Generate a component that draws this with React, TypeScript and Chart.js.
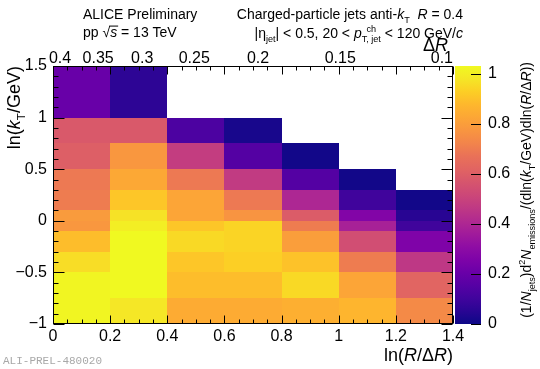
import React, { useEffect, useRef } from 'react';
import { Chart, registerables } from 'chart.js';
Chart.register(...registerables);

// ---- data ----
const xEdges = [0, 0.2, 0.4, 0.6, 0.8, 1.0, 1.2, 1.4]; // ln(R/ΔR) bin edges
const yEdges = [-1, -0.75, -0.5, -0.3, -0.1, 0, 0.1, 0.3, 0.5, 0.75, 1, 1.5]; // ln(kT/GeV) bin edges
// one array per ln(R/ΔR) bin, from lowest to highest ln(kT) bin (null = empty bin)
const bin0 = [1.02, 1.02, 0.96, 0.89, 0.78, 0.79, 0.70, 0.69, 0.60, 0.58, 0.20];
const bin1 = [0.98, 1.03, 1.03, 1.03, 1.0, 0.97, 0.91, 0.83, 0.78, 0.58, 0.06];
const bin2 = [0.84, 0.89, 0.91, 0.95, 0.91, 0.82, 0.82, 0.69, 0.48, 0.13, null];
const bin3 = [0.84, 0.89, 0.93, 0.94, 0.94, 0.77, 0.69, 0.47, 0.15, 0.02, null];
const bin4 = [0.85, 0.95, 0.90, 0.80, 0.70, 0.59, 0.40, 0.15, 0.01, null, null];
const bin5 = [0.87, 0.82, 0.70, 0.54, 0.38, 0.27, 0.10, 0.01, null, null, null];
const bin6 = [0.74, 0.62, 0.46, 0.26, 0.10, 0.05, 0.01, null, null, null, null];
const columns = [bin0, bin1, bin2, bin3, bin4, bin5, bin6];

const xTicks = [0, 0.2, 0.4, 0.6, 0.8, 1, 1.2, 1.4];
const yTicks = [-1, -0.5, 0, 0.5, 1, 1.5];
const zTicks = [0, 0.2, 0.4, 0.6, 0.8, 1];
const topTicks = [0.4, 0.35, 0.3, 0.25, 0.2, 0.15, 0.1]; // ΔR labels
const jetR = 0.4;
const zMax = 1.03;

const FONT = '"Liberation Sans", Arial, Helvetica, sans-serif';

// plasma colour map stops
const plasmaStops: [number, string][] = [
  [0.0, '#0d0887'], [0.05, '#290593'], [0.1, '#41049d'], [0.15, '#5601a4'],
  [0.2, '#6a00a8'], [0.25, '#7e03a8'], [0.3, '#8f0da4'], [0.35, '#a11b9b'],
  [0.4, '#b12a90'], [0.45, '#bf3984'], [0.5, '#cc4778'], [0.55, '#d6556d'],
  [0.6, '#e16462'], [0.65, '#e97158'], [0.7, '#f2844b'], [0.75, '#f89540'],
  [0.8, '#fca636'], [0.85, '#feb72d'], [0.9, '#fcce25'], [0.95, '#f5e626'],
  [1.0, '#f0f921'],
];
function hex(h: string) {
  return [parseInt(h.slice(1, 3), 16), parseInt(h.slice(3, 5), 16), parseInt(h.slice(5, 7), 16)];
}
function plasma(t: number) {
  t = Math.max(0, Math.min(1, t));
  for (let i = 1; i < plasmaStops.length; i++) {
    const [t1, c1] = plasmaStops[i];
    const [t0, c0] = plasmaStops[i - 1];
    if (t <= t1) {
      const f = (t - t0) / (t1 - t0);
      const a = hex(c0), b = hex(c1);
      return `rgb(${Math.round(a[0] + (b[0] - a[0]) * f)},${Math.round(a[1] + (b[1] - a[1]) * f)},${Math.round(a[2] + (b[2] - a[2]) * f)})`;
    }
  }
  return plasmaStops[plasmaStops.length - 1][1];
}

type Piece = { t?: string; i?: boolean; sub?: boolean; sup?: boolean; over?: boolean; stack?: [string, string] };
function pf(size: number, italic?: boolean) {
  return `${italic ? 'italic ' : ''}${size}px ${FONT}`;
}
function measureRich(ctx: CanvasRenderingContext2D, pieces: Piece[], size: number) {
  let w = 0;
  for (const p of pieces) {
    if (p.stack) {
      ctx.font = pf(size * 0.65);
      w += Math.max(ctx.measureText(p.stack[0]).width, ctx.measureText(p.stack[1]).width);
    } else {
      ctx.font = pf(p.sub || p.sup ? size * 0.65 : size, p.i);
      w += ctx.measureText(p.t || '').width;
    }
  }
  return w;
}
function drawRich(ctx: CanvasRenderingContext2D, pieces: Piece[], x: number, y: number, size: number, align: 'left' | 'right', rotate = false) {
  ctx.save();
  ctx.translate(x, y);
  if (rotate) ctx.rotate(-Math.PI / 2);
  const w = measureRich(ctx, pieces, size);
  let cx = align === 'right' ? -w : 0;
  ctx.fillStyle = '#000';
  ctx.strokeStyle = '#000';
  ctx.textAlign = 'left';
  ctx.textBaseline = 'alphabetic';
  for (const p of pieces) {
    if (p.stack) {
      ctx.font = pf(size * 0.65);
      const w0 = ctx.measureText(p.stack[0]).width, w1 = ctx.measureText(p.stack[1]).width;
      const mw = Math.max(w0, w1);
      ctx.fillText(p.stack[0], cx + (mw - w0) / 2, -size * 0.45);
      ctx.fillText(p.stack[1], cx, size * 0.32);
      cx += mw;
    } else {
      const s = p.sub || p.sup ? size * 0.65 : size;
      ctx.font = pf(s, p.i);
      const dy = p.sub ? size * 0.3 : p.sup ? -size * 0.4 : 0;
      ctx.fillText(p.t || '', cx, dy);
      const pw = ctx.measureText(p.t || '').width;
      if (p.over) {
        ctx.lineWidth = 1;
        ctx.beginPath();
        ctx.moveTo(cx - 1, -size * 0.78);
        ctx.lineTo(cx + pw + 1, -size * 0.78);
        ctx.stroke();
      }
      cx += pw;
    }
  }
  ctx.restore();
}

const fmt = (v: number) => {
  const s = String(Number(Math.abs(v).toFixed(2)));
  return v < 0 ? '\u2212' + s : s;
};

const lundPlugin = {
  id: 'lund',
  afterDraw(chart: any) {
    const ctx: CanvasRenderingContext2D = chart.ctx;
    const xs = chart.scales.x, ys = chart.scales.y, zs = chart.scales.z;
    const a = chart.chartArea;
    ctx.save();
    // cells
    for (const c of chart.data.datasets[0].data) {
      const l = Math.round(xs.getPixelForValue(c.x0)), r = Math.round(xs.getPixelForValue(c.x1));
      const t = Math.round(ys.getPixelForValue(c.y1)), b = Math.round(ys.getPixelForValue(c.y0));
      ctx.fillStyle = plasma(c.v / zMax);
      ctx.fillRect(l, t, r - l, b - t);
    }
    // colour bar
    const zb = zs.getPixelForValue(0), zt = zs.getPixelForValue(zMax);
    const g = ctx.createLinearGradient(0, zb, 0, zt);
    for (const [t, c] of plasmaStops) g.addColorStop(t, c);
    ctx.fillStyle = g;
    const cbl = Math.round(a.right) + 2, cbr = Math.round(a.right) + 28;
    ctx.fillRect(cbl, Math.round(zt), cbr - cbl, Math.round(zb) - Math.round(zt));
    ctx.strokeStyle = '#000';
    ctx.lineWidth = 1;
    ctx.beginPath();
    for (const v of zTicks) {
      const py = Math.round(zs.getPixelForValue(v)) + 0.5;
      ctx.moveTo(cbr, py);
      ctx.lineTo(cbr - 10, py);
    }
    ctx.stroke();

    // ticks (inward, mirrored) and frame
    const L = Math.round(a.left) + 0.5, R = Math.round(a.right) - 0.5;
    const T = Math.round(a.top) + 0.5, B = Math.round(a.bottom) - 0.5;
    ctx.beginPath();
    for (let i = 0; i <= 28; i++) {
      const px = Math.round(xs.getPixelForValue(i * 0.05)) + 0.5;
      const len = i % 4 === 0 ? 8 : 4;
      ctx.moveTo(px, B); ctx.lineTo(px, B - len);
      ctx.moveTo(px, T); ctx.lineTo(px, T + len);
    }
    for (let i = 0; i <= 25; i++) {
      const py = Math.round(ys.getPixelForValue(-1 + i * 0.1)) + 0.5;
      const len = i % 5 === 0 ? 11 : 5;
      ctx.moveTo(L, py); ctx.lineTo(L + len, py);
      ctx.moveTo(R, py); ctx.lineTo(R - len, py);
    }
    ctx.stroke();
    ctx.strokeRect(L, T, R - L, B - T);

    // top ΔR axis labels
    ctx.fillStyle = '#000';
    ctx.font = pf(16);
    ctx.textAlign = 'center';
    ctx.textBaseline = 'alphabetic';
    for (const v of topTicks) {
      const lab = String(v);
      const w = ctx.measureText(lab).width;
      let px = xs.getPixelForValue(Math.log(jetR / v)) + 7;
      if (px + w / 2 > a.right) px = a.right - w / 2;
      ctx.fillText(lab, px, a.top - 3);
    }
    drawRich(ctx, [{ t: '\u0394' }, { t: 'R', i: true }], a.right - 5, a.top - 15, 18, 'right');

    // axis titles
    drawRich(ctx, [{ t: 'ln(' }, { t: 'R', i: true }, { t: '/\u0394' }, { t: 'R', i: true }, { t: ')' }], a.right, 361, 18, 'right');
    drawRich(ctx, [{ t: 'ln(' }, { t: 'k', i: true }, { t: 'T', sub: true }, { t: '/GeV)' }], 20, a.top, 18, 'right', true);
    drawRich(ctx, [
      { t: '(1/' }, { t: 'N', i: true }, { t: 'jets', sub: true }, { t: ')d' }, { t: '2', sup: true },
      { t: 'N', i: true }, { t: 'emissions', sub: true }, { t: '/(dln(' }, { t: 'k', i: true }, { t: 'T', sub: true },
      { t: '/GeV)dln(' }, { t: 'R', i: true }, { t: '/\u0394' }, { t: 'R', i: true }, { t: '))' },
    ], 531, a.top - 4, 14, 'right', true);

    // header texts
    drawRich(ctx, [{ t: 'ALICE Preliminary' }], 83, 19, 14, 'left');
    drawRich(ctx, [{ t: 'pp \u221A' }, { t: 's', i: true, over: true }, { t: ' = 13 TeV' }], 83, 37, 14, 'left');
    drawRich(ctx, [{ t: 'Charged-particle jets anti-' }, { t: 'k', i: true }, { t: 'T', sub: true }, { t: '  ' }, { t: 'R', i: true }, { t: ' = 0.4' }], 463, 19, 14, 'right');
    drawRich(ctx, [{ t: '|\u03B7' }, { t: 'jet', sub: true }, { t: '| < 0.5, 20 < ' }, { t: 'p', i: true }, { stack: ['ch', 'T, jet'] }, { t: ' < 120 GeV/' }, { t: 'c', i: true }], 463, 38, 14, 'right');

    // watermark
    ctx.font = `11px "Liberation Mono", "DejaVu Sans Mono", monospace`;
    ctx.fillStyle = '#a8a8a8';
    ctx.textAlign = 'left';
    ctx.fillText('ALI-PREL-480020', 3, 364);
    ctx.restore();
  },
};

export default function App() {
  const ref = useRef<HTMLCanvasElement>(null);
  useEffect(() => {
    const cells: any[] = [];
    columns.forEach((col, i) =>
      col.forEach((v, j) => {
        if (v !== null && v !== undefined)
          cells.push({
            x: (xEdges[i] + xEdges[i + 1]) / 2, y: (yEdges[j] + yEdges[j + 1]) / 2,
            x0: xEdges[i], x1: xEdges[i + 1], y0: yEdges[j], y1: yEdges[j + 1], v,
          });
      })
    );
    const tickFont = { family: FONT, size: 16 };
    const chart = new Chart(ref.current!, {
      type: 'scatter',
      data: { datasets: [{ data: cells, pointRadius: 0, pointHoverRadius: 0 }] },
      options: {
        responsive: false,
        animation: false,
        events: [],
        layout: { padding: { top: 66, left: 0, right: 0, bottom: 0 } },
        plugins: { legend: { display: false }, tooltip: { enabled: false } },
        scales: {
          x: {
            type: 'linear', position: 'bottom', min: 0, max: 1.4,
            grid: { display: false, drawTicks: false }, border: { display: false },
            afterBuildTicks: (s: any) => { s.ticks = xTicks.map((v) => ({ value: v })); },
            afterFit: (s: any) => { s.height = 45; },
            ticks: { padding: 3, color: '#000', font: tickFont, maxRotation: 0, autoSkip: false, callback: (v: any) => fmt(Number(v)) },
          },
          y: {
            type: 'linear', position: 'left', min: -1, max: 1.5,
            grid: { display: false, drawTicks: false }, border: { display: false },
            afterBuildTicks: (s: any) => { s.ticks = yTicks.map((v) => ({ value: v })); },
            afterFit: (s: any) => { s.width = 53; },
            ticks: { padding: 6, color: '#000', font: tickFont, autoSkip: false, callback: (v: any) => fmt(Number(v)) },
          },
          z: {
            axis: 'y', type: 'linear', position: 'right', min: 0, max: zMax,
            grid: { display: false, drawTicks: false }, border: { display: false },
            afterBuildTicks: (s: any) => { s.ticks = zTicks.map((v) => ({ value: v })); },
            afterFit: (s: any) => { s.width = 87; },
            ticks: { padding: 35, color: '#000', font: tickFont, autoSkip: false, callback: (v: any) => fmt(Number(v)) },
          },
        },
      } as any,
      plugins: [lundPlugin],
    });
    return () => chart.destroy();
  }, []);
  return (
    <div style={{ position: 'absolute', left: 0, top: 0, width: 540, height: 369, background: '#fff' }}>
      <canvas ref={ref} width={540} height={369} style={{ display: 'block', width: 540, height: 369 }} />
    </div>
  );
}
